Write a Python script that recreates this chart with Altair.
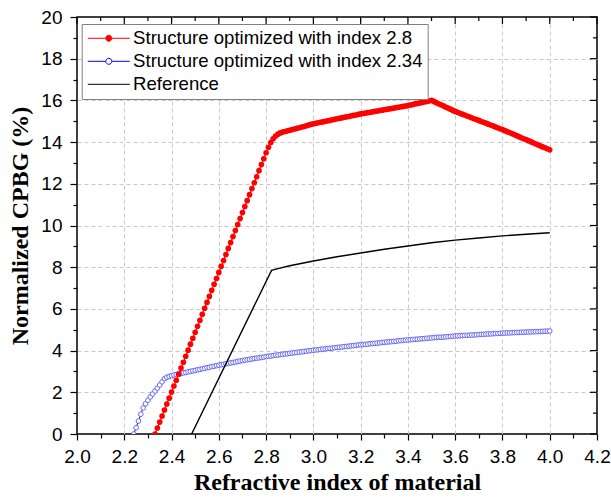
import altair as alt
import pandas as pd

# ---------------- data ----------------
SERIES = ["Structure optimized with index 2.8",
          "Structure optimized with index 2.34",
          "Reference"]
COLORS = ["#ff0000", "#0000ff", "#000000"]

# red series, sampled every 0.01 starting at 2.33
red_x0 = 2.33
red_y = [
    0.00, 0.29, 0.57, 0.86, 1.15, 1.44, 1.72, 2.01, 2.30, 2.58,
    2.87, 3.16, 3.44, 3.73, 4.02, 4.31, 4.59, 4.88, 5.17, 5.45,
    5.74, 6.03, 6.31, 6.60, 6.89, 7.18, 7.46, 7.75, 8.04, 8.32,
    8.61, 8.90, 9.18, 9.47, 9.76, 10.05, 10.33, 10.62, 10.91, 11.19,
    11.48, 11.77, 12.05, 12.34, 12.63, 12.92, 13.20, 13.49, 13.75, 13.98,
    14.16, 14.29, 14.38, 14.44, 14.48,
    14.51, 14.54, 14.57, 14.60, 14.63, 14.66, 14.69, 14.72, 14.75, 14.78, 14.82, 14.85, 14.88,
    14.90, 14.93, 14.95, 14.97, 15.00, 15.02, 15.04, 15.07, 15.09, 15.12,
    15.14, 15.16, 15.19, 15.21, 15.23, 15.26, 15.28, 15.30, 15.33, 15.35,
    15.37, 15.39, 15.41, 15.43, 15.45, 15.47, 15.49, 15.51, 15.53, 15.55,
    15.57, 15.59, 15.61, 15.63, 15.65, 15.67, 15.69, 15.71, 15.73, 15.75,
    15.78, 15.80, 15.83, 15.85, 15.88, 15.90, 15.93, 15.95, 15.98, 16.00,
    15.95, 15.89, 15.84, 15.79, 15.74, 15.68, 15.63, 15.58, 15.52, 15.47,
    15.43, 15.38, 15.34, 15.30, 15.25, 15.21, 15.17, 15.12, 15.08, 15.04,
    14.99, 14.95, 14.91, 14.86, 14.82, 14.78, 14.73, 14.69, 14.64, 14.60,
    14.55, 14.50, 14.46, 14.41, 14.36, 14.31, 14.26, 14.21, 14.16, 14.12,
    14.07, 14.02, 13.97, 13.92, 13.87, 13.82, 13.77, 13.73, 13.68, 13.63,
]

# blue series, sampled every 0.01 starting at 2.24
blue_x0 = 2.24
blue_y = [
    0.00, 0.30, 0.62, 0.95, 1.25, 1.45, 1.62, 1.78, 1.92, 2.06,
    2.20, 2.35, 2.50, 2.65, 2.72, 2.76,
    2.80, 2.83, 2.85, 2.88, 2.90, 2.93, 2.95, 2.98, 3.00, 3.03, 3.05,
    3.08, 3.10, 3.13, 3.15, 3.18, 3.20, 3.23, 3.25, 3.28, 3.30,
    3.32, 3.34, 3.37, 3.39, 3.41, 3.43, 3.45, 3.48, 3.50, 3.52,
    3.54, 3.56, 3.58, 3.60, 3.62, 3.64, 3.65, 3.67, 3.69, 3.71,
    3.73, 3.74, 3.76, 3.78, 3.79, 3.81, 3.82, 3.84, 3.85, 3.87,
    3.88, 3.90, 3.91, 3.93, 3.94, 3.96, 3.97, 3.99, 4.00, 4.02,
    4.03, 4.04, 4.06, 4.07, 4.08, 4.10, 4.11, 4.12, 4.14, 4.15,
    4.16, 4.17, 4.19, 4.20, 4.21, 4.23, 4.24, 4.25, 4.27, 4.28,
    4.29, 4.30, 4.31, 4.33, 4.34, 4.35, 4.36, 4.37, 4.39, 4.40,
    4.41, 4.42, 4.43, 4.44, 4.45, 4.47, 4.48, 4.49, 4.50, 4.51,
    4.52, 4.53, 4.54, 4.55, 4.56, 4.57, 4.58, 4.59, 4.60, 4.61,
    4.62, 4.63, 4.64, 4.64, 4.65, 4.66, 4.67, 4.68, 4.69, 4.70,
    4.71, 4.71, 4.72, 4.73, 4.73, 4.74, 4.75, 4.75, 4.76, 4.77,
    4.78, 4.78, 4.79, 4.80, 4.80, 4.81, 4.82, 4.82, 4.83, 4.84,
    4.84, 4.85, 4.85, 4.86, 4.86, 4.87, 4.87, 4.88, 4.88, 4.89,
    4.89, 4.90, 4.90, 4.91, 4.91, 4.92, 4.92, 4.93, 4.93, 4.94,
]

# reference (black) curve
black_x = [2.485, 2.823, 2.85, 2.9, 3.0, 3.1, 3.2, 3.3, 3.4, 3.5, 3.6, 3.7, 3.8, 3.9, 4.0]
black_y = [0.0, 7.85, 7.93, 8.07, 8.30, 8.50, 8.68, 8.86, 9.02, 9.17, 9.30, 9.40, 9.50, 9.58, 9.65]

x_ticks = [2.0, 2.1, 2.2, 2.3, 2.4, 2.5, 2.6, 2.7, 2.8, 2.9, 3.0, 3.1,
           3.2, 3.3, 3.4, 3.5, 3.6, 3.7, 3.8, 3.9, 4.0, 4.1, 4.2]
x_major = [2.0, 2.2, 2.4, 2.6, 2.8, 3.0, 3.2, 3.4, 3.6, 3.8, 4.0, 4.2]
y_ticks = list(range(0, 21))
y_major = list(range(0, 21, 2))

# ---------------- tables ----------------
red_x = [round(red_x0 + 0.01 * i, 2) for i in range(len(red_y))]
blue_x = [round(blue_x0 + 0.01 * i, 2) for i in range(len(blue_y))]

df = pd.concat([
    pd.DataFrame({"series": SERIES[0], "x": red_x, "y": red_y}),
    pd.DataFrame({"series": SERIES[1], "x": blue_x, "y": blue_y}),
    pd.DataFrame({"series": SERIES[2], "x": black_x, "y": black_y}),
], ignore_index=True)

xt = pd.DataFrame({"v": x_ticks, "major": [v in x_major for v in x_ticks]})
yt = pd.DataFrame({"v": y_ticks, "major": [v in y_major for v in y_ticks]})

W, H = 520, 417

xscale = alt.Scale(domain=[2.0, 4.2], nice=False, zero=False)
yscale = alt.Scale(domain=[0, 20], nice=False)

x_is_major = "abs(datum.value*5 - round(datum.value*5)) < 0.001"
y_is_major = "datum.value % 2 == 0"

xaxis = alt.Axis(
    title="Refractive index of material",
    values=x_ticks,
    labelExpr=f"({x_is_major}) ? format(datum.value, '.1f') : ''",
    tickSize={"condition": {"test": x_is_major, "value": 6}, "value": 4},
    gridOpacity={"condition": {"test": f"({x_is_major}) && datum.value > 2.05 && datum.value < 4.15",
                               "value": 1}, "value": 0},
    grid=True, domain=False, labelFlush=False, labelOverlap=False,
    labelPadding=7, titlePadding=4,
)
yaxis = alt.Axis(
    title="Normalized CPBG (%)",
    values=y_ticks,
    labelExpr=f"({y_is_major}) ? format(datum.value, 'd') : ''",
    tickSize={"condition": {"test": y_is_major, "value": 7}, "value": 4},
    gridOpacity={"condition": {"test": f"({y_is_major}) && datum.value > 0.5 && datum.value < 19.5",
                               "value": 1}, "value": 0},
    grid=True, domain=False, labelFlush=False, labelOverlap=False,
    labelPadding=8, titlePadding=8,
)

LINE_DOT = ("M-2.47,0L-0.353,0M0.353,0L2.47,0M0.353,0"
            "A0.353,0.353,0,1,1,-0.353,0A0.353,0.353,0,1,1,0.353,0Z")
LINE = "M-2.47,0L2.47,0"

legend = alt.Legend(
    title=None, orient="none", legendX=4.7, legendY=7, padding=5,
    strokeColor="#808080", fillColor="white",
    labelFont="Liberation Sans", labelFontSize=18.6, labelColor="black", labelLimit=500,
    symbolSize=289, symbolOffset=12.8, labelOffset=15, rowPadding=4,
    symbolStrokeWidth=1, symbolOpacity=1,
    symbolType=alt.ExprRef(f"datum.value === '{SERIES[2]}' ? '{LINE}' : '{LINE_DOT}'"),
    symbolFillColor=alt.ExprRef(f"datum.value === '{SERIES[0]}' ? '#ff0000' : '#ffffff'"),
)

color = alt.Color("series:N", scale=alt.Scale(domain=SERIES, range=COLORS), legend=legend)

base = alt.Chart(df).encode(
    x=alt.X("x:Q", scale=xscale, axis=xaxis),
    y=alt.Y("y:Q", scale=yscale, axis=yaxis),
    order="x:Q",
)

blue_line = base.transform_filter(alt.datum.series == SERIES[1]).mark_line(
    strokeWidth=1, clip=True).encode(color=color)
blue_pts = base.transform_filter(alt.datum.series == SERIES[1]).mark_point(
    shape="circle", size=22, stroke="#5a5aee", strokeWidth=0.9, fill="white",
    fillOpacity=1, opacity=1, clip=True)
red_line = base.transform_filter(alt.datum.series == SERIES[0]).mark_line(
    strokeWidth=1.2, clip=True).encode(color=color)
red_pts = base.transform_filter(alt.datum.series == SERIES[0]).mark_circle(
    size=32, color="#ff0000", opacity=1, clip=True)
black_line = base.transform_filter(alt.datum.series == SERIES[2]).mark_line(
    strokeWidth=1.4, clip=True).encode(color=color)

tx = alt.X("v:Q", scale=xscale, axis=xaxis)
ty = alt.Y("v:Q", scale=yscale, axis=yaxis)
top_major = alt.Chart(xt).transform_filter("datum.major").mark_rule(
    color="black", strokeWidth=1.2).encode(x=tx, y=alt.value(0), y2=alt.value(7))
top_minor = alt.Chart(xt).transform_filter("!datum.major").mark_rule(
    color="black", strokeWidth=1.2).encode(x=tx, y=alt.value(0), y2=alt.value(4))
right_major = alt.Chart(yt).transform_filter("datum.major").mark_rule(
    color="black", strokeWidth=1.2).encode(y=ty, x=alt.value(W - 7), x2=alt.value(W))
right_minor = alt.Chart(yt).transform_filter("!datum.major").mark_rule(
    color="black", strokeWidth=1.2).encode(y=ty, x=alt.value(W - 4), x2=alt.value(W))

chart = alt.layer(
    blue_line, blue_pts, red_line, red_pts, black_line,
    top_major, top_minor, right_major, right_minor,
).properties(
    width=W, height=H,
    autosize=alt.AutoSizeParams(type="none"),
    padding={"left": 77, "top": 17, "right": 14, "bottom": 66},
    background="white",
).configure_view(
    stroke="black", strokeWidth=1.5,
).configure_axis(
    labelFont="Liberation Sans", labelFontSize=19, labelColor="black",
    titleFont="Liberation Serif", titleFontSize=24, titleFontWeight="bold",
    titleColor="black", tickColor="black", tickWidth=1.2,
    gridColor="#c8c8c8", gridDash=[4, 3], gridWidth=1,
)

chart.save("out.html", embed_options={"renderer": "svg", "actions": False})
